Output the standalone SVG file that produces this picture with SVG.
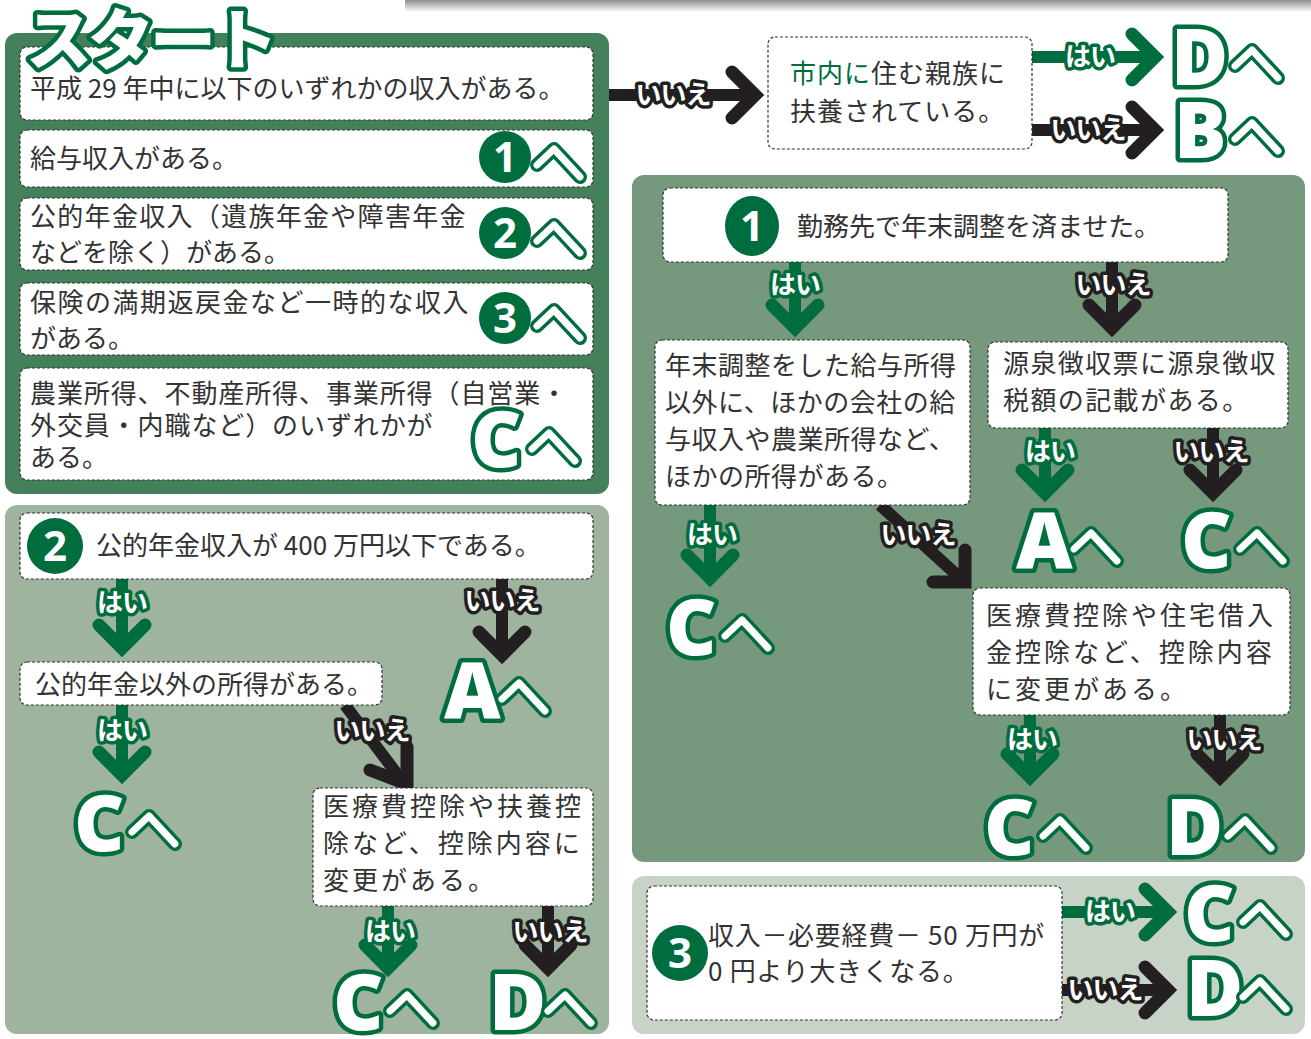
<svg xmlns="http://www.w3.org/2000/svg" xmlns:xlink="http://www.w3.org/1999/xlink" width="1311" height="1039" viewBox="0 0 1311 1039">
<defs>
<linearGradient id="shadow" x1="0" y1="0" x2="0" y2="1">
<stop offset="0" stop-color="#8f8f8f"/><stop offset="1" stop-color="#ffffff"/>
</linearGradient>
<g id="he"><path d="M0,0 L17,-16 L43,12" class="heO"/><path d="M0,0 L17,-16 L43,12" class="heI"/></g>
</defs>
<style>
.jp{font-family:"Noto Sans CJK JP","Noto Sans CJK SC",sans-serif;font-size:26px;fill:#333;}
.box{fill:#fff;stroke:#333;stroke-width:1.2;stroke-dasharray:3 2;}
.heO{fill:none;stroke:#006d3f;stroke-width:14;stroke-linecap:round;stroke-linejoin:round;}
.heI{fill:none;stroke:#fff;stroke-width:7;stroke-linecap:round;stroke-linejoin:round;}
.big{font-family:"Open Sans","Noto Sans",sans-serif;font-weight:800;font-size:78px;fill:#fff;stroke:#006d3f;stroke-width:9;paint-order:stroke;stroke-linejoin:round;}
.badge{fill:#006d3f;}
.num{font-family:"Open Sans","Noto Sans",sans-serif;font-weight:700;font-size:42px;fill:#fff;text-anchor:middle;}
.g{stroke:#006d3f;} .k{stroke:#231f20;}
.shaft{fill:none;stroke-width:12;}
.head{fill:none;stroke-width:13;stroke-linecap:round;stroke-linejoin:miter;}
.lbl{font-family:"Noto Sans CJK JP",sans-serif;font-weight:700;font-size:26px;fill:#fff;stroke-width:7;paint-order:stroke;stroke-linejoin:round;text-anchor:middle;letter-spacing:-1px;}
.title{font-family:"Noto Sans CJK JP",sans-serif;font-weight:900;font-size:66px;fill:#fff;stroke:#006d3f;stroke-width:9;paint-order:stroke;stroke-linejoin:round;}
</style>

<rect x="405" y="0" width="906" height="12" fill="url(#shadow)"/>

<!-- panels -->
<g id="panel-start"><rect x="5" y="33" width="604" height="461" rx="12" fill="#44805a"/></g>
<g id="panel-2"><rect x="5" y="505" width="604" height="529" rx="12" fill="#9fb49f"/></g>
<g id="panel-1"><rect x="632" y="175" width="673" height="687" rx="12" fill="#76997e"/></g>
<g id="panel-3"><rect x="632" y="876" width="673" height="158" rx="12" fill="#c8d3c8"/></g>

<!-- connectors -->
<g id="connectors">
  <line class="shaft k" x1="609" y1="95" x2="755" y2="95"/>
  <path class="head k" d="M732 72 L755 95 L732 118"/>
  <text class="lbl k" x="673" y="104">いいえ</text>
  <line class="shaft g" x1="1032" y1="57" x2="1155" y2="57"/>
  <path class="head g" d="M1132 34 L1155 57 L1132 80"/>
  <text class="lbl g" x="1090" y="66">はい</text>
  <line class="shaft k" x1="1032" y1="130" x2="1155" y2="130"/>
  <path class="head k" d="M1132 107 L1155 130 L1132 153"/>
  <text class="lbl k" x="1088" y="139">いいえ</text>

  <line class="shaft g" x1="795" y1="262" x2="795" y2="328"/>
  <path class="head g" d="M772 305 L795 328 L818 305"/>
  <text class="lbl g" x="795" y="294">はい</text>
  <line class="shaft k" x1="1112" y1="262" x2="1112" y2="328"/>
  <path class="head k" d="M1089 305 L1112 328 L1135 305"/>
  <text class="lbl k" x="1113" y="294">いいえ</text>

  <line class="shaft g" x1="1045" y1="428" x2="1045" y2="493"/>
  <path class="head g" d="M1022 470 L1045 493 L1068 470"/>
  <text class="lbl g" x="1050" y="461">はい</text>
  <line class="shaft k" x1="1213" y1="428" x2="1213" y2="493"/>
  <path class="head k" d="M1190 470 L1213 493 L1236 470"/>
  <text class="lbl k" x="1211" y="461">いいえ</text>

  <line class="shaft g" x1="710" y1="505" x2="710" y2="578"/>
  <path class="head g" d="M687 555 L710 578 L733 555"/>
  <text class="lbl g" x="712" y="544">はい</text>

  <line class="shaft k" x1="880" y1="505" x2="958" y2="576"/>
  <path class="head k" d="M965 550 L965 582 L933 582"/>
  <text class="lbl k" x="918" y="544">いいえ</text>

  <line class="shaft g" x1="1030" y1="715" x2="1030" y2="777"/>
  <path class="head g" d="M1007 754 L1030 777 L1053 754"/>
  <text class="lbl g" x="1032" y="749">はい</text>
  <line class="shaft k" x1="1220" y1="715" x2="1220" y2="777"/>
  <path class="head k" d="M1197 754 L1220 777 L1243 754"/>
  <text class="lbl k" x="1224" y="749">いいえ</text>

  <line class="shaft g" x1="122" y1="579" x2="122" y2="648"/>
  <path class="head g" d="M99 625 L122 648 L145 625"/>
  <text class="lbl g" x="122" y="612">はい</text>
  <line class="shaft k" x1="502" y1="579" x2="502" y2="655"/>
  <path class="head k" d="M479 632 L502 655 L525 632"/>
  <text class="lbl k" x="502" y="610">いいえ</text>

  <line class="shaft g" x1="122" y1="705" x2="122" y2="775"/>
  <path class="head g" d="M99 752 L122 775 L145 752"/>
  <text class="lbl g" x="122" y="740">はい</text>

  <line class="shaft k" x1="345" y1="705" x2="400" y2="778"/>
  <path class="head k" d="M407 747 L407 784 L370 770"/>
  <text class="lbl k" x="372" y="740">いいえ</text>

  <line class="shaft g" x1="388" y1="906" x2="388" y2="968"/>
  <path class="head g" d="M365 945 L388 968 L411 945"/>
  <text class="lbl g" x="390" y="941">はい</text>
  <line class="shaft k" x1="548" y1="906" x2="548" y2="968"/>
  <path class="head k" d="M525 945 L548 968 L571 945"/>
  <text class="lbl k" x="550" y="941">いいえ</text>

  <line class="shaft g" x1="1062" y1="912" x2="1168" y2="912"/>
  <path class="head g" d="M1145 889 L1168 912 L1145 935"/>
  <text class="lbl g" x="1110" y="921">はい</text>
  <line class="shaft k" x1="1062" y1="990" x2="1168" y2="990"/>
  <path class="head k" d="M1145 967 L1168 990 L1145 1013"/>
  <text class="lbl k" x="1105" y="999">いいえ</text>
</g>

<!-- start boxes -->
<g id="start-q">
  <rect class="box" x="20" y="47" width="573" height="73" rx="7"/>
  <text class="jp" x="30" y="98">平成 29 年中に以下のいずれかの収入がある。</text>
</g>
<g id="start-1">
  <rect class="box" x="20" y="130" width="573" height="57" rx="7"/>
  <text class="jp" x="30" y="168">給与収入がある。</text>
  <circle class="badge" cx="505" cy="157" r="26"/>
  <text class="num" x="505" y="172">1</text>
  <use xlink:href="#he" x="537" y="165"/>
</g>
<g id="start-2">
  <rect class="box" x="20" y="198" width="573" height="72" rx="7"/>
  <text class="jp" x="30" y="226" letter-spacing="1.3">公的年金収入（遺族年金や障害年金</text>
  <text class="jp" x="30" y="262">などを除く）がある。</text>
  <circle class="badge" cx="505" cy="233" r="26"/>
  <text class="num" x="505" y="248">2</text>
  <use xlink:href="#he" x="537" y="241"/>
</g>
<g id="start-3">
  <rect class="box" x="20" y="283" width="573" height="72" rx="7"/>
  <text class="jp" x="30" y="312" letter-spacing="1.5">保険の満期返戻金など一時的な収入</text>
  <text class="jp" x="30" y="348">がある。</text>
  <circle class="badge" cx="505" cy="318" r="26"/>
  <text class="num" x="505" y="333">3</text>
  <use xlink:href="#he" x="537" y="326"/>
</g>
<g id="start-c">
  <rect class="box" x="20" y="368" width="573" height="112" rx="7"/>
  <text class="jp" x="30" y="403" letter-spacing="0.9">農業所得、不動産所得、事業所得（自営業・</text>
  <text class="jp" x="30" y="435" letter-spacing="0.9">外交員・内職など）のいずれかが</text>
  <text class="jp" x="30" y="467">ある。</text>
  <text class="big" x="471" y="467">C</text>
  <use xlink:href="#he" x="532" y="449"/>
</g>

<!-- start title (on top) -->
<g id="title"><text class="title" x="26" y="64" letter-spacing="-4">スタート</text></g>

<!-- 市内 question -->
<g id="q-family">
  <rect class="box" x="768" y="37" width="264" height="112" rx="7"/>
  <text class="jp" x="790" y="83" letter-spacing="1"><tspan fill="#006d3f">市内に</tspan>住む親族に</text>
  <text class="jp" x="790" y="121" letter-spacing="1">扶養されている。</text>
</g>
<g id="res-top-d"><text class="big" x="1171" y="85">D</text><use xlink:href="#he" x="1235" y="66"/></g>
<g id="res-top-b"><text class="big" x="1174" y="158">B</text><use xlink:href="#he" x="1235" y="139"/></g>

<!-- section 1 -->
<g id="s1-q">
  <rect class="box" x="663" y="188" width="565" height="74" rx="7"/>
  <ellipse class="badge" cx="752" cy="226" rx="27" ry="30"/>
  <text class="num" x="752" y="241">1</text>
  <text class="jp" x="797" y="236">勤務先で年末調整を済ませた。</text>
</g>
<g id="s1-other">
  <rect class="box" x="655" y="340" width="315" height="165" rx="7"/>
  <text class="jp" x="665" y="375" letter-spacing="0.5">年末調整をした給与所得</text>
  <text class="jp" x="665" y="412" letter-spacing="0.5">以外に、ほかの会社の給</text>
  <text class="jp" x="665" y="449" letter-spacing="0.5">与収入や農業所得など、</text>
  <text class="jp" x="665" y="486" letter-spacing="0.5">ほかの所得がある。</text>
</g>
<g id="s1-gensen">
  <rect class="box" x="988" y="342" width="300" height="86" rx="7"/>
  <text class="jp" x="1003" y="373" letter-spacing="1.4">源泉徴収票に源泉徴収</text>
  <text class="jp" x="1003" y="410" letter-spacing="1.4">税額の記載がある。</text>
</g>
<g id="s1-a"><text class="big" x="1016" y="568">A</text><use xlink:href="#he" x="1074" y="549"/></g>
<g id="s1-c1"><text class="big" x="1181" y="568">C</text><use xlink:href="#he" x="1240" y="549"/></g>
<g id="s1-c2"><text class="big" x="666" y="655">C</text><use xlink:href="#he" x="725" y="636"/></g>
<g id="s1-med">
  <rect class="box" x="973" y="588" width="317" height="127" rx="7"/>
  <text class="jp" x="986" y="625" letter-spacing="3">医療費控除や住宅借入</text>
  <text class="jp" x="986" y="662" letter-spacing="3">金控除など、控除内容</text>
  <text class="jp" x="986" y="699" letter-spacing="3">に変更がある。</text>
</g>
<g id="s1-c3"><text class="big" x="984" y="855">C</text><use xlink:href="#he" x="1043" y="836"/></g>
<g id="s1-d"><text class="big" x="1166" y="855">D</text><use xlink:href="#he" x="1228" y="836"/></g>

<!-- section 2 -->
<g id="s2-q">
  <rect class="box" x="20" y="513" width="573" height="66" rx="7"/>
  <circle class="badge" cx="55" cy="546" r="28"/>
  <text class="num" x="55" y="561">2</text>
  <text class="jp" x="96" y="555">公的年金収入が 400 万円以下である。</text>
</g>
<g id="s2-a"><text class="big" x="444" y="718">A</text><use xlink:href="#he" x="502" y="699"/></g>
<g id="s2-other">
  <rect class="box" x="20" y="662" width="362" height="43" rx="7"/>
  <text class="jp" x="35" y="694">公的年金以外の所得がある。</text>
</g>
<g id="s2-c1"><text class="big" x="74" y="851">C</text><use xlink:href="#he" x="132" y="832"/></g>
<g id="s2-med">
  <rect class="box" x="313" y="788" width="280" height="118" rx="7"/>
  <text class="jp" x="323" y="816" letter-spacing="3">医療費控除や扶養控</text>
  <text class="jp" x="323" y="853" letter-spacing="3">除など、控除内容に</text>
  <text class="jp" x="323" y="890" letter-spacing="3">変更がある。</text>
</g>
<g id="s2-c2"><text class="big" x="333" y="1030">C</text><use xlink:href="#he" x="390" y="1011"/></g>
<g id="s2-d"><text class="big" x="489" y="1030">D</text><use xlink:href="#he" x="548" y="1011"/></g>

<!-- section 3 -->
<g id="s3-q">
  <rect class="box" x="647" y="886" width="415" height="134" rx="7"/>
  <circle class="badge" cx="680" cy="953" r="28"/>
  <text class="num" x="680" y="968">3</text>
  <text class="jp" x="708" y="945" letter-spacing="0.7">収入－必要経費－ 50 万円が</text>
  <text class="jp" x="708" y="981" letter-spacing="0.7">0 円より大きくなる。</text>
</g>
<g id="s3-c"><text class="big" x="1184" y="941">C</text><use xlink:href="#he" x="1243" y="922"/></g>
<g id="s3-d"><text class="big" x="1186" y="1016">D</text><use xlink:href="#he" x="1243" y="997"/></g>
</svg>
